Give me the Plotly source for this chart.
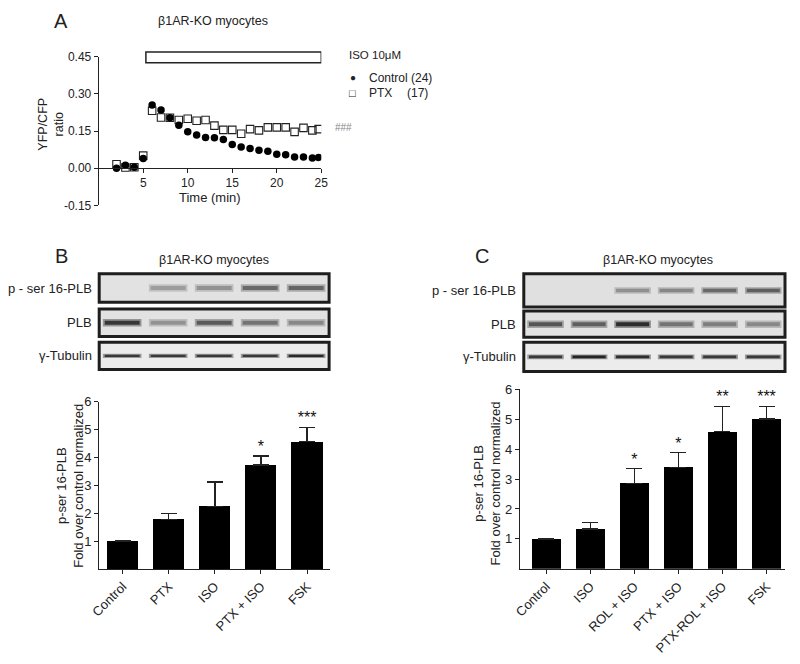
import plotly.graph_objects as go

# ---------------- data ----------------
# Panel A: FRET time course (YFP/CFP ratio)
time_min = [2, 3, 4, 5, 6, 7, 8, 9, 10, 11, 12, 13, 14, 15, 16, 17, 18, 19, 20, 21, 22, 23, 24, 24.7]
control_ratio = [0.000, 0.012, 0.004, 0.039, 0.255, 0.235, 0.204, 0.174, 0.147, 0.134, 0.124, 0.123,
                 0.116, 0.096, 0.086, 0.080, 0.073, 0.069, 0.057, 0.055, 0.046, 0.046, 0.042, 0.044]
ptx_ratio = [0.016, 0.003, 0.004, 0.051, 0.232, 0.205, 0.204, 0.195, 0.200, 0.192, 0.195, 0.172,
             0.155, 0.155, 0.139, 0.158, 0.153, 0.165, 0.165, 0.165, 0.147, 0.163, 0.153, 0.158]
iso_start, iso_end = 5.3, 25.0
a_yticks = [-0.15, 0.00, 0.15, 0.30, 0.45]
a_xticks = [5, 10, 15, 20, 25]

# Panel B bars
b_cats = ["Control", "PTX", "ISO", "PTX + ISO", "FSK"]
b_vals = [1.00, 1.78, 2.25, 3.73, 4.57]
b_err = [0.00, 0.22, 0.87, 0.32, 0.51]
b_sig = ["", "", "", "*", "***"]

# Panel C bars
c_cats = ["Control", "ISO", "ROL + ISO", "PTX + ISO", "PTX-ROL + ISO", "FSK"]
c_vals = [1.00, 1.33, 2.85, 3.38, 4.58, 5.00]
c_err = [0.00, 0.22, 0.50, 0.50, 0.85, 0.43]
c_sig = ["", "", "*", "*", "**", "***"]

bar_yticks = [1, 2, 3, 4, 5, 6]

# Western blot band intensities (0 = none, 1 = black)
blot_rows = ["p - ser 16-PLB", "PLB", "γ-Tubulin"]
b_pser = [0.00, 0.35, 0.40, 0.60, 0.62]
b_plb = [0.85, 0.40, 0.68, 0.55, 0.45]
b_tub = [0.85, 0.85, 0.85, 0.85, 0.92]
c_pser = [0.04, 0.04, 0.40, 0.45, 0.60, 0.65]
c_plb = [0.70, 0.65, 0.90, 0.55, 0.50, 0.45]
c_tub = [0.85, 0.95, 0.90, 0.85, 0.85, 0.85]

FONT = "Liberation Sans, Arial, sans-serif"
W, H = 784, 648   # page body keeps its default 8px margin -> 800 x 664 window
OFF = 8


def px(x):
    return min(max((x - OFF) / W, 0), 1)


def py(y):
    return min(max(1 - (y - OFF) / H, 0), 1)


fig = go.Figure()

# ---------------- Panel A ----------------
fig.add_trace(go.Scatter(x=time_min, y=ptx_ratio, mode="markers", xaxis="x", yaxis="y",
                         marker=dict(symbol="square-open", size=7.5, color="#222",
                                     line=dict(width=1.1, color="#222")),
                         showlegend=False, name="PTX"))
fig.add_trace(go.Scatter(x=time_min, y=control_ratio, mode="markers", xaxis="x", yaxis="y",
                         marker=dict(symbol="circle", size=7.5, color="#000"),
                         showlegend=False, name="Control"))

axis_common = dict(showline=True, linecolor="#222", linewidth=1, ticks="outside", ticklen=4,
                   tickcolor="#222", showgrid=False, zeroline=False,
                   tickfont=dict(family=FONT, size=12, color="#222"))

fig.update_layout(
    xaxis=dict(domain=[px(90.5), px(318)], range=[0, 25], anchor="free", position=py(164.5),
               tickvals=a_xticks, **axis_common),
    yaxis=dict(domain=[py(203), py(50.7)], range=[-0.15, 0.45], anchor="x",
               tickvals=a_yticks, ticktext=[f"{v:.2f}" for v in a_yticks], **axis_common),
)

# ISO application bar (x in data units, y in page position above the plot)
fig.add_shape(type="rect", xref="x", yref="paper", x0=iso_start, x1=iso_end, y0=py(57), y1=py(46),
              line=dict(color="#222", width=1.5), fillcolor="white")

# ---------------- Panel B bars ----------------
fig.add_trace(go.Bar(x=list(range(len(b_cats))), y=b_vals, xaxis="x2", yaxis="y2", width=0.68,
                     marker=dict(color="#000", line=dict(width=0)),
                     error_y=dict(type="data", symmetric=False, array=b_err,
                                  arrayminus=[0] * len(b_err), color="#222", thickness=1.3, width=8),
                     showlegend=False))
fig.add_trace(go.Scatter(x=list(range(len(b_cats))), y=[v + e for v, e in zip(b_vals, b_err)],
                         mode="text", text=b_sig, textposition="top center", xaxis="x2", yaxis="y2",
                         textfont=dict(family=FONT, size=16, color="#111"), showlegend=False))

# ---------------- Panel C bars ----------------
fig.add_trace(go.Bar(x=list(range(len(c_cats))), y=c_vals, xaxis="x3", yaxis="y3", width=0.67,
                     marker=dict(color="#000", line=dict(width=0)),
                     error_y=dict(type="data", symmetric=False, array=c_err,
                                  arrayminus=[0] * len(c_err), color="#222", thickness=1.3, width=8),
                     showlegend=False))
fig.add_trace(go.Scatter(x=list(range(len(c_cats))), y=[v + e for v, e in zip(c_vals, c_err)],
                         mode="text", text=c_sig, textposition="top center", xaxis="x3", yaxis="y3",
                         textfont=dict(family=FONT, size=16, color="#111"), showlegend=False))

bar_tickfont = dict(family=FONT, size=13, color="#222")
fig.update_layout(
    xaxis2=dict(domain=[px(91), px(327)], range=[-0.51, 4.5], anchor="y2",
                tickvals=list(range(len(b_cats))), ticktext=b_cats, tickangle=-45,
                **{**axis_common, "tickfont": bar_tickfont}),
    yaxis2=dict(domain=[py(575), py(404)], range=[0, 6], anchor="x2", tickvals=bar_yticks,
                **{**axis_common, "tickfont": bar_tickfont}),
    xaxis3=dict(domain=[px(521), px(792)], range=[-0.6, 5.42], anchor="y3",
                tickvals=list(range(len(c_cats))), ticktext=c_cats, tickangle=-45,
                **{**axis_common, "tickfont": bar_tickfont}),
    yaxis3=dict(domain=[py(575), py(391)], range=[0, 6], anchor="x3", tickvals=bar_yticks,
                **{**axis_common, "tickfont": bar_tickfont}),
)

# ---------------- Western blots ----------------
hidden = dict(visible=False, showgrid=False, zeroline=False)


def gray(intensity, bg=228):
    v = int(round(bg * (1 - intensity) + 25 * intensity))
    return f"rgb({v},{v},{v})"


blot_specs = [
    # (axis index, x0, x1, y_top, y_bottom, lane intensities, band width px, bg)
    (4, 91, 326, 273, 302, b_pser, 4.0, 226),
    (5, 91, 326, 309, 337, b_plb, 4.0, 226),
    (6, 91, 326, 343, 371, b_tub, 2.2, 236),
    (7, 525, 792, 273, 307, c_pser, 3.5, 224),
    (8, 525, 792, 311, 338, c_plb, 4.0, 226),
    (9, 525, 792, 343, 373, c_tub, 2.6, 236),
]

for idx, x0, x1, yt, yb, lanes, bw, bg in blot_specs:
    n = len(lanes)
    fig.update_layout(**{
        f"xaxis{idx}": dict(domain=[px(x0), px(x1)], range=[0.5, n + 0.5], anchor=f"y{idx}", **hidden),
        f"yaxis{idx}": dict(domain=[py(yb), py(yt)], range=[-1, 1], anchor=f"x{idx}", **hidden),
    })
    fig.add_shape(type="rect", xref=f"x{idx} domain", yref=f"y{idx} domain", x0=0, x1=1, y0=0, y1=1,
                  line=dict(color="#1e1e1e", width=3), fillcolor=f"rgb({bg},{bg},{bg})", layer="below")
    for i, inten in enumerate(lanes):
        if inten <= 0.05:
            continue
        lane = i + 1
        # soft halo then core band
        fig.add_trace(go.Scatter(x=[lane - 0.42, lane + 0.42], y=[0, 0], mode="lines",
                                 xaxis=f"x{idx}", yaxis=f"y{idx}", hoverinfo="skip",
                                 line=dict(color=gray(inten * 0.45, bg), width=bw * 1.9), showlegend=False))
        fig.add_trace(go.Scatter(x=[lane - 0.38, lane + 0.38], y=[0, 0], mode="lines",
                                 xaxis=f"x{idx}", yaxis=f"y{idx}", hoverinfo="skip",
                                 line=dict(color=gray(inten, bg), width=bw), showlegend=False))

# ---------------- text ----------------
ann = []


def add_text(x, y, text, size=12, xanchor="center", yanchor="middle", angle=0, color="#222"):
    ann.append(dict(x=px(x), y=py(y), xref="paper", yref="paper", text=text, showarrow=False,
                    xanchor=xanchor, yanchor=yanchor, textangle=angle,
                    font=dict(family=FONT, size=size, color=color)))


add_text(52, 14, "A", size=20)
add_text(52, 255, "B", size=20)
add_text(482, 255, "C", size=20)
add_text(207, 14, "β1AR-KO myocytes", size=12.5)
add_text(208, 259, "β1AR-KO myocytes", size=12.5)
add_text(662, 259, "β1AR-KO myocytes", size=12.5)

# Panel A labels
add_text(42, 120, "YFP/CFP<br>ratio", size=12.5, angle=-90)
add_text(204, 195, "Time (min)", size=13)
add_text(344, 49, "ISO 10μM", size=11.5, xanchor="left")
add_text(350, 72, "●", size=10)
add_text(365, 72, "Control (24)", size=12, xanchor="left")
add_text(350, 88, "□", size=11)
add_text(365, 88, "PTX", size=12, xanchor="left")
add_text(404, 88, "(17)", size=12, xanchor="left")
add_text(330, 123, "###", size=10, xanchor="left", color="#888")

# Blot row labels
for (yb_c, yc_c, label) in [(287.5, 290, blot_rows[0]), (323, 324.5, blot_rows[1]), (357, 358, blot_rows[2])]:
    add_text(86, yb_c, label, size=13, xanchor="right")
    add_text(519, yc_c, label, size=13, xanchor="right")

# Bar y titles
add_text(61, 490, "p-ser 16-PLB<br>Fold over control normalized", size=13, angle=-90)
add_text(487, 488, "p-ser 16-PLB<br>Fold over control normalized", size=13, angle=-90)

fig.update_layout(
    annotations=ann,
    width=W, height=H,
    margin=dict(l=0, r=0, t=0, b=0),
    paper_bgcolor="white", plot_bgcolor="white",
    showlegend=False,
    bargap=0,
    font=dict(family=FONT, color="#222"),
)

fig.write_html("out.html", config={"displayModeBar": False})
